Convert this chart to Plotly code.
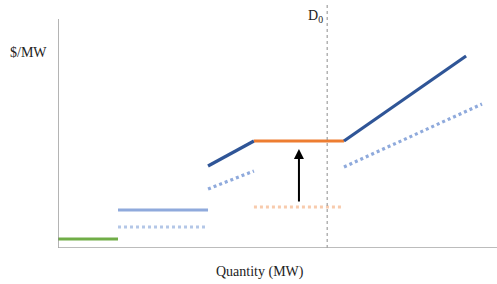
import plotly.graph_objects as go

# Quantity units (x) and price units (y)
green_x = [0, 2]
green_y = [0.9, 0.9]
lb_x = [2, 5]
lb_y = [3.8, 3.8]
lb_dot_y = [2.1, 2.1]
db1_x = [5, 6.53]
db1_y = [8.2, 10.7]
db1_dot_y = [5.9, 7.7]
orange_x = [6.53, 9.53]
orange_y = [10.7, 10.7]
orange_dot_y = [4.1, 4.1]
db2_x = [9.53, 13.6]
db2_y = [10.7, 19.2]
db2_dot_x = [9.53, 14.13]
db2_dot_y = [8.1, 14.4]
d0_x = 8.97
arrow_x = 8.03
arrow_from = 4.5
arrow_to = 9.9
x_max = 14.63
y_max = 24.3
y_axis_top = 22.9

fig = go.Figure()

def seg(x, y, color, dash="solid", width=3.2):
    fig.add_trace(go.Scatter(x=x, y=y, mode="lines",
                             line=dict(color=color, width=width, dash=dash),
                             hoverinfo="skip", showlegend=False))

dot = "3px,3px"
seg(green_x, green_y, "#70AD47")
seg(lb_x, lb_dot_y, "#B4C7E7", dot)
seg(lb_x, lb_y, "#8FAADC")
seg(db1_x, db1_dot_y, "#8FAADC", dot)
seg(db1_x, db1_y, "#2F5597")
seg(orange_x, orange_dot_y, "#F8CBAD", dot)
seg(orange_x, orange_y, "#ED7D31")
seg(db2_dot_x, db2_dot_y, "#8FAADC", dot)
seg(db2_x, db2_y, "#2F5597")

# D0 vertical dotted line
fig.add_shape(type="line", x0=d0_x, x1=d0_x, y0=0, y1=y_max,
              line=dict(color="#8C8C8C", width=1, dash="dot"))
# y axis line
fig.add_shape(type="line", x0=0, x1=0, y0=0, y1=y_axis_top,
              line=dict(color="#8C8C8C", width=1.3))
# x axis line
fig.add_shape(type="line", x0=0, x1=x_max, y0=0, y1=0,
              line=dict(color="#A6A6A6", width=1.3))

fig.add_annotation(x=arrow_x, y=arrow_to, ax=arrow_x, ay=arrow_from,
                   xref="x", yref="y", axref="x", ayref="y",
                   showarrow=True, arrowhead=2, arrowsize=1, arrowwidth=2,
                   arrowcolor="black", text="")

fig.add_annotation(x=d0_x, y=23.2, xref="x", yref="y", text="D<sub>0</sub>",
                   showarrow=False, xanchor="right", xshift=-2,
                   font=dict(family="Liberation Serif", size=14, color="#222"))
fig.add_annotation(x=0, y=19.6, xref="x", yref="y", text="$/MW",
                   showarrow=False, xanchor="right", xshift=-9,
                   font=dict(family="Liberation Serif", size=14, color="#222"))
fig.add_annotation(x=0.46, y=-0.099, xref="paper", yref="paper", text="Quantity (MW)",
                   showarrow=False, xanchor="center", yanchor="middle",
                   font=dict(family="Liberation Serif", size=14, color="#222"))

fig.update_xaxes(range=[0, x_max], visible=False)
fig.update_yaxes(range=[0, y_max], visible=False)
fig.update_layout(width=497, height=284, margin=dict(l=58, r=0, t=5, b=36),
                  plot_bgcolor="white", paper_bgcolor="white")

fig.write_html("out.html", config={"displayModeBar": False},
               post_script="document.body.style.margin='0';document.body.style.overflow='hidden';")
